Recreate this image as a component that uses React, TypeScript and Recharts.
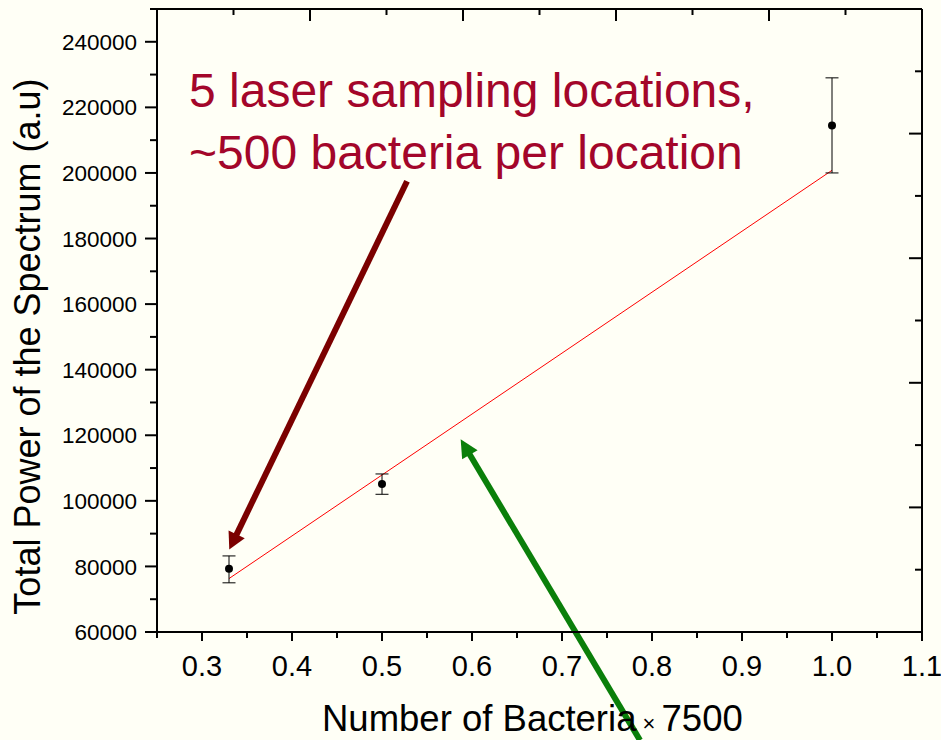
import React from 'react';
import { ComposedChart, XAxis, YAxis, Scatter, Line, ErrorBar, ReferenceLine, Label } from 'recharts';

// ---- data ----
const bacteriaFraction = [0.33, 0.5, 1.0];
const totalPower = [79300, 105100, 214500];
const powerErrLow = [4300, 3100, 14500];
const powerErrHigh = [3900, 3100, 14500];

const fitFraction = [0.33, 1.0];
const fitPower = [76300, 200800];

const xTicks = [0.25, 0.3, 0.35, 0.4, 0.45, 0.5, 0.55, 0.6, 0.65, 0.7, 0.75, 0.8, 0.85, 0.9, 0.95, 1.0, 1.05, 1.1];
const xTickLabels = ['', '0.3', '', '0.4', '', '0.5', '', '0.6', '', '0.7', '', '0.8', '', '0.9', '', '1.0', '', '1.1'];

const yTicks = [60000, 70000, 80000, 90000, 100000, 110000, 120000, 130000, 140000, 150000, 160000, 170000, 180000, 190000, 200000, 210000, 220000, 230000, 240000, 250000];
const yTickLabels = ['60000', '', '80000', '', '100000', '', '120000', '', '140000', '', '160000', '', '180000', '', '200000', '', '220000', '', '240000', ''];

const topTicks = [0, 0.5, 1, 1.5, 2, 2.5, 3, 3.5, 4, 4.5, 5];
const rightTicks = [0, 1, 2, 3, 4, 5, 6, 7, 8, 9, 10];

const annotationLines = ['5 laser sampling locations,', '~500 bacteria per location'];
const yTitle = 'Total Power of the Spectrum (a.u)';
const xTitle = 'Number of Bacteria';
const xTitleFactor = '7500';

// arrows in data coordinates
const arrowRedFrom = { x: 0.5278, y: 197460 };
const arrowRedTo = { x: 0.3303, y: 85130 };
const arrowGreenFrom = { x: 0.7867, y: 26970 };
const arrowGreenTo = { x: 0.5874, y: 118770 };

const scatterData = bacteriaFraction.map((x, i) => ({ x, y: totalPower[i], err: [powerErrLow[i], powerErrHigh[i]] }));
const fitData = fitFraction.map((x, i) => ({ x, fit: fitPower[i] }));

const FONT = '"Liberation Sans", Arial, Helvetica, sans-serif';
const BG = '#FFFFF6';

const BottomTick = (props: any) => {
  const { x, y, index } = props;
  const label = xTickLabels[index];
  const major = label !== '';
  return (
    <g>
      <line x1={x} y1={y} x2={x} y2={y + (major ? 9 : 6)} stroke="#000" strokeWidth={2} />
      {major && (
        <text x={x} y={y + 44} textAnchor="middle" fontSize={29} fontFamily={FONT} fill="#000">
          {label}
        </text>
      )}
    </g>
  );
};

const LeftTick = (props: any) => {
  const { x, y, index } = props;
  const label = yTickLabels[index];
  const major = label !== '';
  return (
    <g>
      <line x1={x - (major ? 12 : 7)} y1={y} x2={x} y2={y} stroke="#000" strokeWidth={2} />
      {major && (
        <text x={x - 20} y={y} dy="0.36em" textAnchor="end" fontSize={22.5} fontFamily={FONT} fill="#000">
          {label}
        </text>
      )}
    </g>
  );
};

const TopTick = (props: any) => {
  const { x, y, payload } = props;
  const major = Number.isInteger(payload.value);
  return <line x1={x} y1={y} x2={x} y2={y + (major ? 12 : 6)} stroke="#000" strokeWidth={2} />;
};

const RightTick = (props: any) => {
  const { x, y, payload } = props;
  const major = payload.value % 2 === 0;
  return <line x1={x - (major ? 13 : 7)} y1={y} x2={x} y2={y} stroke="#000" strokeWidth={2} />;
};

const makeArrow = (color: string, headLen: number, headHalf: number, shaft: number) => (props: any) => {
  const { x1, y1, x2, y2 } = props;
  const dx = x2 - x1;
  const dy = y2 - y1;
  const len = Math.hypot(dx, dy) || 1;
  const ux = dx / len;
  const uy = dy / len;
  const bx = x2 - ux * headLen;
  const by = y2 - uy * headLen;
  const px = -uy;
  const py = ux;
  return (
    <g>
      <line x1={x1} y1={y1} x2={bx + ux * 2} y2={by + uy * 2} stroke={color} strokeWidth={shaft} />
      <polygon
        points={`${x2},${y2} ${bx + px * headHalf},${by + py * headHalf} ${bx - px * headHalf},${by - py * headHalf}`}
        fill={color}
      />
    </g>
  );
};

const YTitle = (props: any) => {
  const vb = props.viewBox || { x: 57, y: 9, width: 100, height: 623 };
  const bx = vb.x - 17;
  const cy = vb.y + vb.height / 2 + 26;
  return (
    <text x={bx} y={cy} transform={`rotate(-90 ${bx} ${cy})`} textAnchor="middle" fontSize={36} fontFamily={FONT} fill="#000">
      {yTitle}
    </text>
  );
};

const XTitle = (props: any) => {
  const vb = props.viewBox || { x: 157, y: 632, width: 765, height: 108 };
  return (
    <text x={vb.x + 165} y={vb.y + 99} textAnchor="start" fontSize={36.5} fontFamily={FONT} fill="#000">
      {xTitle}
      <tspan fontSize={22}>{' \u00D7 '}</tspan>
      {xTitleFactor}
    </text>
  );
};

export default function App() {
  return (
    <div style={{ position: 'absolute', left: 0, top: 0, width: 941, height: 740, background: BG, overflow: 'hidden' }}>
      <ComposedChart width={941} height={740} margin={{ top: 8, right: 18, bottom: 0, left: 57 }}>
        <XAxis
          xAxisId="b"
          dataKey="x"
          type="number"
          orientation="bottom"
          domain={[0.25, 1.1]}
          ticks={xTicks}
          interval={0}
          height={108}
          tickSize={0}
          tickMargin={0}
          tickLine={false}
          axisLine={{ stroke: '#000', strokeWidth: 2 }}
          tick={<BottomTick />}
          allowDataOverflow
        >
          <Label content={<XTitle />} />
        </XAxis>
        <XAxis
          xAxisId="t"
          dataKey="x"
          type="number"
          orientation="top"
          domain={[0, 5]}
          ticks={topTicks}
          interval={0}
          height={1}
          tickSize={0}
          tickMargin={0}
          tickLine={false}
          axisLine={{ stroke: '#000', strokeWidth: 2 }}
          tick={<TopTick />}
          allowDataOverflow
        />
        <YAxis
          yAxisId="l"
          type="number"
          orientation="left"
          domain={[60000, 250000]}
          ticks={yTicks}
          interval={0}
          width={100}
          tickSize={0}
          tickMargin={0}
          tickLine={false}
          axisLine={{ stroke: '#000', strokeWidth: 2 }}
          tick={<LeftTick />}
          allowDataOverflow
        >
          <Label content={<YTitle />} />
        </YAxis>
        <YAxis
          yAxisId="r"
          type="number"
          orientation="right"
          domain={[0, 10]}
          ticks={rightTicks}
          interval={0}
          width={1}
          tickSize={0}
          tickMargin={0}
          tickLine={false}
          axisLine={{ stroke: '#000', strokeWidth: 2 }}
          tick={<RightTick />}
          allowDataOverflow
        />
        <Line
          xAxisId="b"
          yAxisId="l"
          data={fitData}
          dataKey="fit"
          type="linear"
          stroke="#FF0000"
          strokeWidth={1}
          dot={false}
          activeDot={false}
          isAnimationActive={false}
        />
        <Scatter
          xAxisId="b"
          yAxisId="l"
          data={scatterData}
          dataKey="y"
          isAnimationActive={false}
          shape={(p: any) => <circle cx={p.cx} cy={p.cy} r={4} fill="#000" />}
        >
          <ErrorBar dataKey="err" direction="y" width={6.5} stroke="#000" strokeWidth={1} isAnimationActive={false} />
        </Scatter>
        <Scatter
          xAxisId="t"
          yAxisId="r"
          data={[]}
          dataKey="y"
          isAnimationActive={false}
        />
        <ReferenceLine
          xAxisId="b"
          yAxisId="l"
          segment={[arrowRedFrom, arrowRedTo]}
          ifOverflow="visible"
          shape={makeArrow('#7B0000', 17, 9, 6)}
        />
        <ReferenceLine
          xAxisId="b"
          yAxisId="l"
          segment={[arrowGreenFrom, arrowGreenTo]}
          ifOverflow="visible"
          shape={makeArrow('#0A7F0A', 18, 9, 6)}
        />
      </ComposedChart>
      <svg width={941} height={740} style={{ position: 'absolute', left: 0, top: 0, pointerEvents: 'none' }}>
        {annotationLines.map((t, i) => (
          <text key={i} x={189} y={107 + i * 61.5} fontSize={48} fontFamily={FONT} fill="#A3062A">
            {t}
          </text>
        ))}
      </svg>
    </div>
  );
}
